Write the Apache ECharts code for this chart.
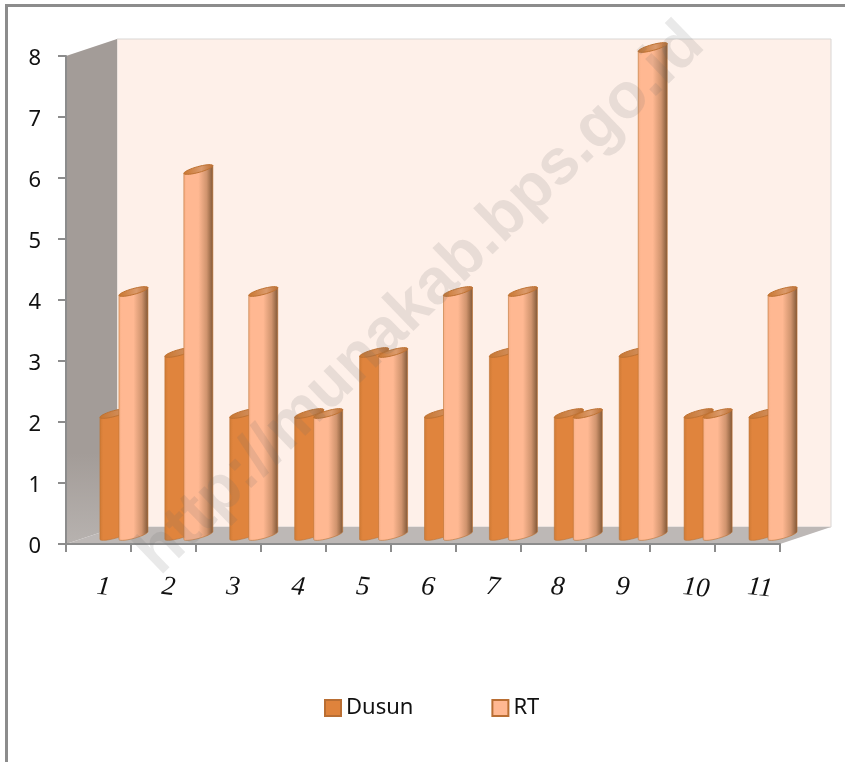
<!DOCTYPE html>
<html>
<head>
<meta charset="utf-8">
<style>html,body{margin:0;padding:0;background:#fff}#chart{width:845px;height:762px}</style>
<script src="https://cdn.jsdelivr.net/npm/echarts@6/dist/echarts.min.js"></script>
</head>
<body>
<div id="chart"></div>
<script>
const categories = ['1','2','3','4','5','6','7','8','9','10','11'];
const dusun = [2,3,2,2,3,2,3,2,3,2,2];
const rt = [4,6,4,2,3,4,4,2,8,2,4];
const yTickMax = 8;

// Oblique projection used for the fake-3D chamber and cylinders
const DEPTH = [51, -17];
const AX = [14.5, -4], BX = [0.8, 2.8];

const grad = stops => new echarts.graphic.LinearGradient(0, 0, 1, 0,
  stops.map(s => ({offset: s[0], color: s[1]})));
const vgrad = stops => new echarts.graphic.LinearGradient(0, 0, 0, 1,
  stops.map(s => ({offset: s[0], color: s[1]})));

function ellipsePoint(c, t) {
  return [c[0] + AX[0]*Math.cos(t) + BX[0]*Math.sin(t),
          c[1] + AX[1]*Math.cos(t) + BX[1]*Math.sin(t)];
}

function cylinder(offset, bodyStops, capStops, edge) {
  return function (params, api) {
    const i = api.value(0), v = api.value(1);
    const base = api.coord([i, 0]), top = api.coord([i, v]);
    const cx = base[0] + offset, dy = DEPTH[1]/2;
    const cb = [cx, base[1] + dy], ct = [cx, top[1] + dy];
    const body = [ellipsePoint(ct, Math.PI), ellipsePoint(ct, 0)];
    for (let k = 0; k <= 14; k++) body.push(ellipsePoint(cb, k/14*Math.PI));
    const cap = [];
    for (let k = 0; k < 36; k++) cap.push(ellipsePoint(ct, k/36*2*Math.PI));
    return {type: 'group', children: [
      {type: 'polygon', shape: {points: body},
       style: {fill: grad(bodyStops), stroke: edge, lineWidth: 0.6}},
      {type: 'polygon', shape: {points: cap},
       style: {fill: grad(capStops), stroke: edge, lineWidth: 1}}
    ]};
  };
}

function chamber(params, api) {
  const band = api.size([1, 0])[0];
  const l = api.coord([0, 0])[0] - band/2, r = api.coord([categories.length-1, 0])[0] + band/2;
  const b = api.coord([0, 0])[1], t = api.coord([0, yTickMax])[1];
  const [dx, dy] = DEPTH;
  return {type: 'group', children: [
    {type: 'polygon', shape: {points: [[l+dx,t+dy],[r+dx,t+dy],[r+dx,b+dy],[l+dx,b+dy]]},
     style: {fill: '#FEF0E9', stroke: '#D9D6D4', lineWidth: 1}},
    {type: 'polygon', shape: {points: [[l,t],[l+dx,t+dy],[l+dx,b+dy],[l,b]]},
     style: {fill: vgrad([[0,'#A39C98'],[0.82,'#A39C98'],[1,'#B7B2AF']])}},
    {type: 'polygon', shape: {points: [[l,b],[r,b],[r+dx,b+dy],[l+dx,b+dy]]},
     style: {fill: '#BDB8B6'}}
  ]};
}

const chart = echarts.init(document.getElementById('chart'), null, {renderer: 'canvas'});
const toPairs = arr => arr.map((v, i) => [i, v]);

chart.setOption({
  animation: false,
  backgroundColor: '#fff',
  grid: {left: 66, right: 65, top: 56, bottom: 218},
  legend: {
    left: 324, top: 697, padding: 0, itemWidth: 16, itemHeight: 16, itemGap: 78, icon: 'rect',
    textStyle: {fontFamily: 'Noto Sans', fontSize: 22, color: '#111'},
    data: [
      {name: 'Dusun', itemStyle: {color: '#DF833C', borderColor: '#B96E33', borderWidth: 2}},
      {name: 'RT', itemStyle: {color: '#FFB892', borderColor: '#B96E33', borderWidth: 2}}
    ]
  },
  xAxis: {
    type: 'category', z: 5,
    data: categories.map(c => (c.length > 1 ? {value: c, textStyle: {padding: 0}} : c)),
    axisLine: {lineStyle: {color: '#8C8C8C', width: 2}},
    axisTick: {show: true, length: 8, alignWithLabel: false, lineStyle: {color: '#8C8C8C', width: 2}},
    axisLabel: {interval: 0, margin: 43, rotate: -6, align: 'center', padding: [0,0,0,10],
      fontFamily: 'Liberation Serif', fontStyle: 'italic', fontSize: 27, color: '#111'}
  },
  yAxis: {
    type: 'value', min: 0, max: yTickMax, interval: 1, z: 5,
    axisLine: {show: true, lineStyle: {color: '#8C8C8C', width: 2}},
    axisTick: {show: true, length: 8, lineStyle: {color: '#8C8C8C', width: 2}},
    splitLine: {show: false},
    axisLabel: {margin: 25, verticalAlign: 'top', lineHeight: 5, fontFamily: 'Noto Sans', fontSize: 22, color: '#111'}
  },
  series: [
    {type: 'custom', name: 'chamber', z: 1, clip: false, renderItem: chamber,
     data: [[0, 0]], silent: true},
    {type: 'custom', name: 'Dusun', z: 3, clip: false, encode: {x: 0, y: 1},
     renderItem: cylinder(16, [[0,'#CF7A35'],[0.12,'#E0843D'],[0.7,'#E0843D'],[1,'#A9652F']],
       [[0,'#C9762F'],[0.6,'#CF8A55'],[1,'#B96E33']], '#BE7233'),
     data: toPairs(dusun)},
    {type: 'custom', name: 'RT', z: 4, clip: false, encode: {x: 0, y: 1},
     renderItem: cylinder(35, [[0,'#F6AE84'],[0.1,'#FFB892'],[0.5,'#FFB892'],[0.78,'#D0946E'],[1,'#7F5635']],
       [[0,'#C9762F'],[0.6,'#DB9A6C'],[1,'#B96E33']], '#BE7233'),
     data: toPairs(rt)}
  ],
  graphic: [
    {type: 'line', z: 10, shape: {x1: 5, y1: 5.5, x2: 845, y2: 5.5}, style: {stroke: '#8C8C8C', lineWidth: 3}},
    {type: 'line', z: 10, shape: {x1: 6.5, y1: 5, x2: 6.5, y2: 762}, style: {stroke: '#8C8C8C', lineWidth: 3}},
    {type: 'text', z: 20, x: 421, y: 299, rotation: Math.PI/4 * 0.98, silent: true,
     style: {text: 'http://munakab.bps.go.id', fontFamily: 'Liberation Sans', fontWeight: 'bold',
       fontSize: 64, fill: 'rgba(110,110,110,0.15)', align: 'center', verticalAlign: 'middle'}}
  ]
});
</script>
</body>
</html>
